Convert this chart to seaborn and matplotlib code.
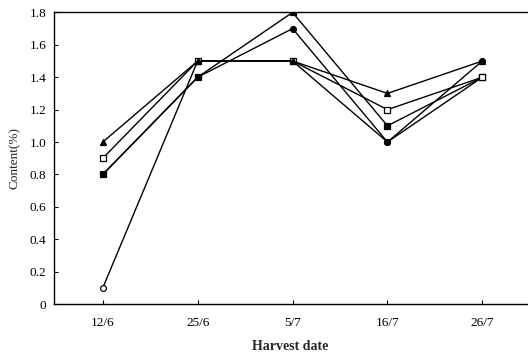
import matplotlib
matplotlib.use("Agg")
import matplotlib.pyplot as plt
import seaborn as sns
import pandas as pd

dates = ["12/6", "25/6", "5/7", "16/7", "26/7"]
s_triangle = [1.0, 1.5, 1.5, 1.3, 1.5]
s_open_square = [0.9, 1.5, 1.5, 1.2, 1.4]
s_open_circle = [0.1, 1.5, 1.5, 1.0, 1.4]
s_filled_square = [0.8, 1.4, 1.8, 1.1, 1.4]
s_filled_circle = [0.8, 1.4, 1.7, 1.0, 1.5]
y_ticks = [0, 0.2, 0.4, 0.6, 0.8, 1.0, 1.2, 1.4, 1.6, 1.8]
y_tick_labels = ["0", "0.2", "0.4", "0.6", "0.8", "1.0", "1.2", "1.4", "1.6", "1.8"]

series = {
    "oci": (s_open_circle, "o", "white"),
    "fci": (s_filled_circle, "o", "black"),
    "fsq": (s_filled_square, "s", "black"),
    "osq": (s_open_square, "s", "white"),
    "tri": (s_triangle, "^", "black"),
}

sns.set_style("ticks")
plt.rcParams["font.family"] = ["Liberation Serif", "DejaVu Serif"]

fig = plt.figure(figsize=(5.28, 3.54), dpi=100)
ax = fig.add_axes([0.103, 0.141, 0.895, 0.824])

for name, (vals, mk, fc) in series.items():
    df = pd.DataFrame({"date": dates, "value": vals})
    sns.lineplot(data=df, x="date", y="value", ax=ax, color="black",
                 linewidth=1.0, marker=mk, markersize=4.2 if mk != "^" else 4.8,
                 markerfacecolor=fc, markeredgecolor="black",
                 markeredgewidth=0.9, sort=False, legend=False)

ax.set_xlim(-0.51, 4.47)
ax.set_ylim(0, 1.8)
ax.set_yticks(y_ticks)
ax.set_yticklabels(y_tick_labels)
ax.tick_params(axis="both", direction="in", length=3, width=0.8,
               labelsize=9.5, colors="black")
ax.tick_params(axis="x", pad=9)
ax.tick_params(axis="y", pad=6)
for side in ["left", "bottom", "top"]:
    ax.spines[side].set_visible(True)
    ax.spines[side].set_linewidth(1.0)
    ax.spines[side].set_color("black")
ax.spines["right"].set_visible(False)

ax.set_xlabel("Harvest date", fontsize=10, fontweight="bold", labelpad=8)
ax.set_ylabel("Content(%)", fontsize=9.5, labelpad=6)

fig.savefig("out.png", dpi=100)
